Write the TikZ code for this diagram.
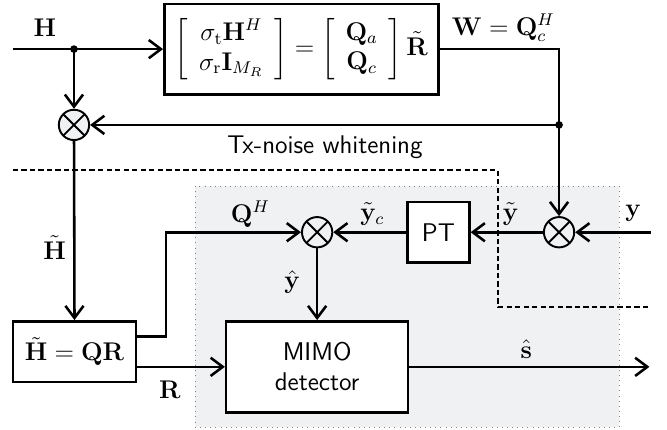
\documentclass[tikz,border=0pt]{standalone}
\usepackage{color, xcolor}
\usepackage{amsfonts}
\usepackage{amsmath}
\usepackage{amssymb}
\usepackage{tikz}
\usetikzlibrary{positioning, arrows.meta}

\definecolor{bggray}{RGB}{240,241,243}

\tikzset{
  blk/.style={draw, line width=1.2pt, align=center, fill=white},
  mult/.style={draw, circle, line width=0.9pt, minimum size=0.5cm, inner sep=0pt, fill=bggray,
    path picture={\draw[line width=0.9pt] (path picture bounding box.north west) -- (path picture bounding box.south east)
                                          (path picture bounding box.north east) -- (path picture bounding box.south west);}},
  sftext/.style={font=\sffamily\large}
}

\begin{document}
\begin{tikzpicture}[line width=1.2pt, font=\large, >={Straight Barb[length=2mm, width=3mm]}]
      \useasboundingbox (0, 0) rectangle (11.0, 7.08);

      % receiver region and whitening border
      \draw[draw=gray, dotted, line width=0.4pt, fill=bggray] (3.22, 0.03) rectangle (10.21, 4.01);
      \draw[dash pattern=on 2.5pt off 1.5pt, line width=0.9pt] (0.21, 4.27) -- (8.22, 4.27) -- (8.22, 2.01) -- (10.73, 2.01);

      \node[blk, minimum width=4.52cm, minimum height=1.49cm]  (WB)   at ( 4.97, 6.27)
        {\setlength{\arraycolsep}{5pt}$\left[\begin{array}{c} \sigma_{\mathrm{t}}\mathbf{H}^H \\ \sigma_{\mathrm{r}}\mathbf{I}_{M_R} \end{array}\right]
         = \left[\begin{array}{c} \mathbf{Q}_a \\ \mathbf{Q}_c \end{array}\right] \tilde{\mathbf{R}}$};
      \node[mult]                                              (M1)   at ( 1.22, 5.02)    {};
      \node[mult]                                              (M2)   at ( 9.22, 3.25)    {};
      \node[mult]                                              (M3)   at ( 5.23, 3.25)    {};
      \node[blk, sftext, minimum width=1.02cm, minimum height=1.0cm]  (PT)   at ( 7.23, 3.25)    {PT};
      \node[blk, minimum width=2.03cm, minimum height=1.0cm]   (QR)   at ( 1.23, 1.28)    {$\tilde{\mathbf{H}} = \mathbf{QR}$};
      \node[blk, sftext, minimum width=3.0cm, minimum height=1.5cm]   (MIMO) at ( 5.23, 1.03)    {MIMO \\ detector};

      \coordinate (IN)  at ( 0.21, 6.27);
      \coordinate (J1)  at ( 1.22, 6.27);
      \coordinate (J2)  at ( 9.22, 5.02);
      \coordinate (YIN) at (10.73, 3.25);
      \coordinate (OUT) at (10.71, 1.03);

      % labels
      \node         (LH)  at ( 0.74, 6.62)    {$\mathbf{H}$};
      \node         (LW)  at ( 8.30, 6.62)    {$\mathbf{W} = \mathbf{Q}_c^H$};
      \node[sftext] (LTX) at ( 5.36, 4.65)    {Tx-noise whitening};
      \node         (LHt) at ( 0.90, 3.00)    {$\tilde{\mathbf{H}}$};
      \node         (LQ)  at ( 4.13, 3.55)    {$\mathbf{Q}^H$};
      \node         (LYc) at ( 6.14, 3.55)    {$\tilde{\mathbf{y}}_c$};
      \node         (LYt) at ( 8.42, 3.55)    {$\tilde{\mathbf{y}}$};
      \node         (LY)  at (10.44, 3.56)    {$\mathbf{y}$};
      \node         (LYh) at ( 4.82, 2.43)    {$\hat{\mathbf{y}}$};
      \node         (LS)  at ( 8.68, 1.32)    {$\hat{\mathbf{s}}$};
      \node         (LR)  at ( 2.80, 0.66)    {$\mathbf{R}$};

      \draw[->] (IN) -- (WB);
      \draw[->] (J1) -- (M1);
      \draw[->] (WB) -| (M2);
      \draw[->] (J2) -- (M1);
      \draw[->] (M1) -- (QR);

      \draw[->] (YIN) -- (M2);
      \draw[->] (M2) -- (PT);
      \draw[->] (PT) -- (M3);
      \draw[->] (M3) -- (MIMO);

      \draw[->] ([yshift=0.25cm]QR.east) -- ++(0.47, 0) |- (M3);
      \draw[->] ([yshift=-0.25cm]QR.east) -- (MIMO.west);
      \draw[->] (MIMO) -- (OUT);

      \fill (J1) circle (1.8pt);
      \fill (J2) circle (1.8pt);
    \end{tikzpicture}
\end{document}
